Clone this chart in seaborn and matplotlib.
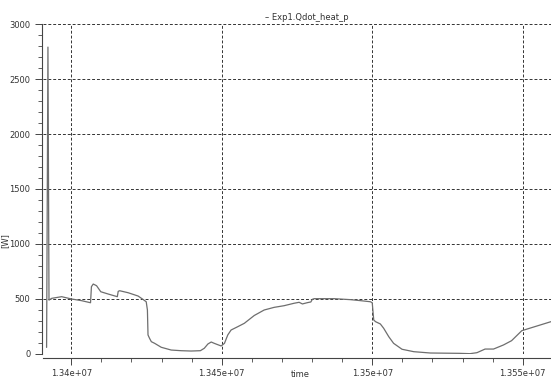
import pandas as pd
import seaborn as sns
import matplotlib.pyplot as plt
from matplotlib.ticker import MultipleLocator, FuncFormatter

# time axis (s) and heating power (W)
time = [13391800, 13392250, 13392600, 13393500, 13396800, 13400100, 13403400,
        13406400, 13406700, 13407300, 13408400, 13409800, 13412300, 13415300,
        13415600, 13416100, 13418900, 13422200, 13423800, 13424900, 13425300,
        13425500, 13426000, 13426600, 13427700, 13429900, 13433200, 13436500,
        13439800, 13442900, 13444200, 13445400, 13446500, 13447500, 13449800,
        13450900, 13452000, 13453100, 13455300, 13457500, 13460800, 13464100,
        13467400, 13470700, 13474000, 13475700, 13476800, 13478500, 13479600,
        13480100, 13480700, 13487300, 13492800, 13496100, 13499400, 13500000,
        13500500, 13501100, 13502700, 13503800, 13505500, 13507100, 13509900,
        13513800, 13519300, 13529000, 13532500, 13534800, 13537500, 13540300,
        13543600, 13546300, 13549700, 13559400]
qdot = [60, 2790, 490, 506, 521, 500, 485,
        466, 612, 636, 621, 566, 545, 521,
        570, 575, 557, 527, 497, 475, 400,
        173, 143, 112, 97, 61, 36, 30,
        27, 30, 52, 91, 109, 97, 73,
        97, 173, 218, 248, 279, 350, 400,
        424, 439, 461, 470, 455, 467, 473,
        497, 503, 503, 494, 485, 475, 466,
        309, 294, 273, 234, 157, 97, 43,
        21, 9, 6, 3, 12, 45, 45,
        82, 121, 212, 294]

df = pd.DataFrame({'time': time, 'Qdot': qdot})

sns.set_style('ticks')
plt.rcParams['font.family'] = ['DejaVu Sans']

fig = plt.figure(figsize=(5.51, 3.78), dpi=100)
ax = fig.add_axes([0.078, 0.0635, 0.922, 0.873])

sns.lineplot(data=df, x='time', y='Qdot', color='#6e6e6e', linewidth=0.9, ax=ax)

ax.set_xlim(13390600, 13559400)
ax.set_ylim(0, 3000)
ax.xaxis.set_major_locator(MultipleLocator(50000))
ax.xaxis.set_minor_locator(MultipleLocator(10000))
ax.xaxis.set_major_formatter(FuncFormatter(lambda v, p: '{:g}'.format(v)))
ax.yaxis.set_major_locator(MultipleLocator(500))
ax.yaxis.set_minor_locator(MultipleLocator(100))
ax.grid(True, which='major', linestyle=(0, (3, 2)), color='#333333', linewidth=0.7)

for s in ['top', 'right']:
    ax.spines[s].set_visible(False)
ax.spines['bottom'].set_position(('outward', 3))
ax.spines['left'].set_position(('outward', 1))
ax.spines['bottom'].set_color('#444444')
ax.spines['left'].set_color('#444444')
ax.spines['bottom'].set_linewidth(0.8)
ax.spines['left'].set_linewidth(0.8)
ax.tick_params(which='major', length=5, width=0.7, color='#444444', labelsize=6, labelcolor='#333333', pad=3)
ax.tick_params(which='minor', length=3, width=0.6, color='#444444')

ax.set_xlabel('time', fontsize=6, color='#333333')
ax.set_ylabel('[W]', fontsize=6, color='#333333')
ax.xaxis.set_label_coords(0.506, -0.05)
ax.yaxis.set_label_coords(-0.066, 0.345)
fig.text(0.557, 0.955, '\u2013 Exp1.Qdot_heat_p', fontsize=6, color='#333333', ha='center', va='center')

plt.savefig('out.png', dpi=100)
